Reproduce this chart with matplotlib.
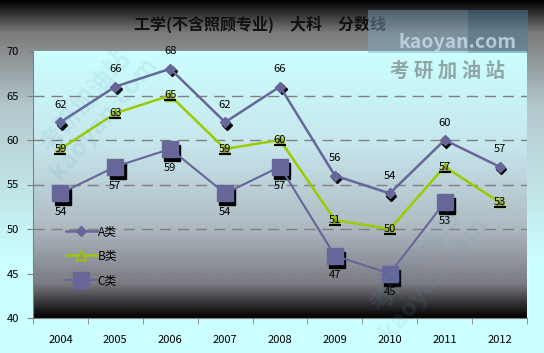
import matplotlib
matplotlib.use("Agg")
import matplotlib.pyplot as plt
import numpy as np
from matplotlib.colors import LinearSegmentedColormap

plt.rcParams['font.family'] = ['Noto Sans CJK SC', 'DejaVu Sans']

years = ['2004', '2005', '2006', '2007', '2008', '2009', '2010', '2011', '2012']
a_vals = [62, 66, 68, 62, 66, 56, 54, 60, 57]
b_vals = [59, 63, 65, 59, 60, 51, 50, 57, 53]
c_vals = [54, 57, 59, 54, 57, 47, 45, 53]

W, H = 544, 353
fig = plt.figure(figsize=(W / 100, H / 100), dpi=100)

# figure background gradient
bg = fig.add_axes([0, 0, 1, 1], zorder=-10)
bg_cmap = LinearSegmentedColormap.from_list(
    'bg', [(0, '#000000'), (0.09, '#7a7a7a'), (0.3, '#b4c8cc'), (0.75, '#ccffff'), (1, '#ccffff')])
bg.imshow(np.linspace(0, 1, 256)[:, None], aspect='auto', cmap=bg_cmap,
          extent=[0, 1, 0, 1], origin='upper')
bg.set_axis_off()

# plot area
x0, x1, y0, y1 = 33, 527, 51, 318
ax = fig.add_axes([x0 / W, 1 - y1 / H, (x1 - x0) / W, (y1 - y0) / H])
ax.set_facecolor('none')
pa_cmap = LinearSegmentedColormap.from_list(
    'pa', [(0, '#ccffff'), (0.35, '#c6e6ec'), (0.65, '#b0bcc4'), (0.87, '#7c7c84'), (1, '#000000')])
ax.imshow(np.linspace(0, 1, 256)[:, None], aspect='auto', cmap=pa_cmap,
          extent=[-0.5, len(years) - 0.5, 40, 70], origin='upper', zorder=0)

x = np.arange(len(years))
ax.set_xlim(-0.5, len(years) - 0.5)
ax.set_ylim(40, 70)
ax.set_yticks(range(40, 71, 5))
ax.set_xticks(x)
ax.set_xticklabels(years)
ax.set_xticks(np.arange(-0.5, len(years), 1), minor=True)
ax.tick_params(axis='x', which='major', length=0, pad=12, labelsize=8)
ax.tick_params(axis='x', which='minor', length=4, color='#808080')
ax.tick_params(axis='y', length=4, color='#808080', labelsize=8, pad=6)
for s in ['top', 'right']:
    ax.spines[s].set_visible(False)
for s in ['left', 'bottom']:
    ax.spines[s].set_color('#808080')
for yv in range(45, 70, 5):
    ax.axhline(yv, color='#808080', lw=1, ls=(0, (8, 5)), zorder=1)

xc = np.arange(len(c_vals))
ax.plot(x, a_vals, color='#666699', lw=1.8, marker='D', ms=5.5, mfc='#666699', mec='#666699',
        label='A类', zorder=4)
ax.plot(x, b_vals, color='#99cc00', lw=1.8, marker='^', ms=7, mfc='#999966', mec='#99cc00',
        label='B类', zorder=3)
ax.plot(xc, c_vals, color='#666699', lw=1.5, marker='s', ms=11, mfc='#666699', mec='#666699',
        label='C类', zorder=2)
# marker shadows
ax.plot(x + 0.03, np.array(a_vals) - 0.3, ls='none', marker='D', ms=5.5, color='black', zorder=3.9)
ax.plot(x, np.array(b_vals) - 0.55, ls='none', marker='_', ms=8, mew=1.5, color='black', zorder=3.9)
ax.plot(xc + 0.04, np.array(c_vals) - 0.45, ls='none', marker='s', ms=11, color='black', zorder=1.9)

for i, v in enumerate(a_vals):
    ax.annotate(str(v), (i, v), xytext=(0, 9), textcoords='offset points', ha='center',
                va='bottom', fontsize=8, zorder=6)
for i, v in enumerate(b_vals):
    ax.annotate(str(v), (i, v), xytext=(0, 0), textcoords='offset points', ha='center',
                va='center', fontsize=8, zorder=6)
for i, v in enumerate(c_vals):
    ax.annotate(str(v), (i, v), xytext=(0, -10), textcoords='offset points', ha='center',
                va='top', fontsize=8, zorder=6)

leg = ax.legend(loc='lower left', bbox_to_anchor=(0.045, 0.075), frameon=False, fontsize=8.5,
                handlelength=2.6, labelspacing=1.0, handletextpad=0.1)
leg.set_zorder(7)

# title
fig.text(0.478, 1 - 24 / H, '工学(不含照顾专业)　大科　分数线', ha='center', va='center',
         fontsize=11.5, fontweight='bold', color='#111111')

# watermark
fig.patches.append(plt.Rectangle((368 / W, 1 - 53 / H), 100 / W, 43 / H, transform=fig.transFigure,
                                 facecolor='#7fa8c4', alpha=0.45, zorder=8))
fig.patches.append(plt.Rectangle((468 / W, 1 - 53 / H), 60 / W, 43 / H, transform=fig.transFigure,
                                 facecolor='#4f7f9c', alpha=0.5, zorder=8))
fig.text(458 / W, 1 - 43 / H, 'kaoyan.com', ha='center', va='center', fontsize=14,
         fontweight='bold', color='#c8dcec', alpha=0.8, zorder=9)
fig.text(447 / W, 1 - 71 / H, '考 研 加 油 站', ha='center', va='center', fontsize=14,
         fontweight='bold', color='#8a9c9c', alpha=0.9, zorder=9)
for (wx, wy) in [(95, 110), (425, 270)]:
    fig.text(wx / W, 1 - wy / H, '考研加油站\nkaoyan.com', ha='center', va='center', fontsize=18,
             fontweight='bold', color='#5a9fc0', alpha=0.12, rotation=50, zorder=9,
             linespacing=1.0)

fig.savefig('out.png', dpi=100)
